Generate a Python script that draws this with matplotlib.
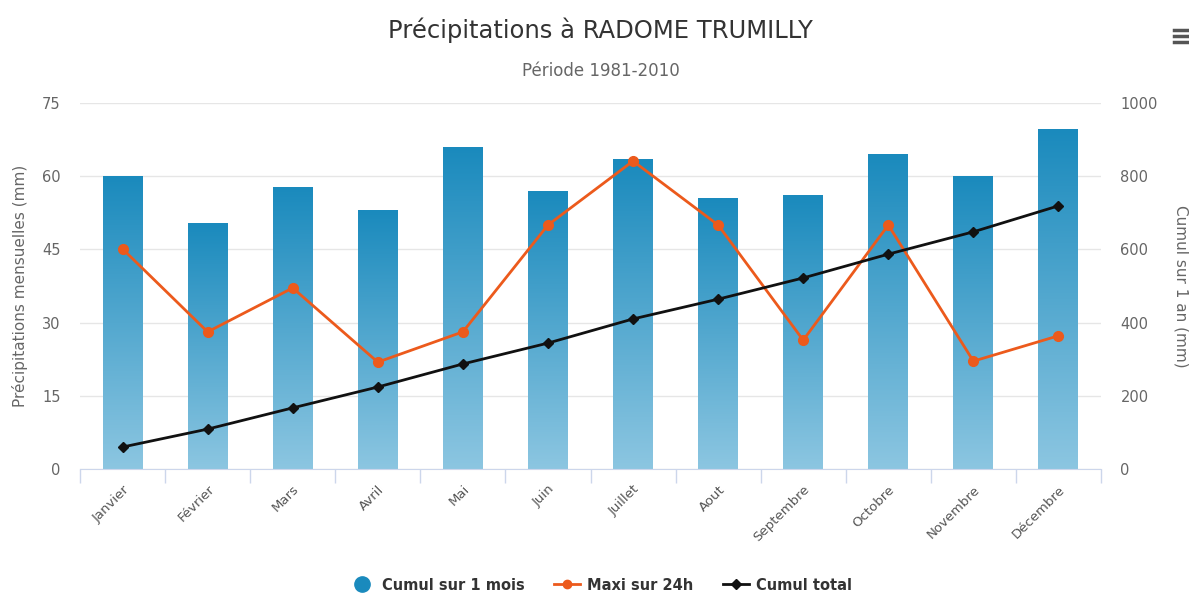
import numpy as np
import matplotlib
matplotlib.use("Agg")
import matplotlib.pyplot as plt
from matplotlib.lines import Line2D
from matplotlib.colors import LinearSegmentedColormap

months = ["Janvier", "Février", "Mars", "Avril", "Mai", "Juin", "Juillet",
          "Aout", "Septembre", "Octobre", "Novembre", "Décembre"]
cumul_mois = [60.0, 50.3, 57.6, 52.9, 65.8, 56.8, 63.5, 55.5, 56.1, 64.4, 60.0, 69.5]
maxi_24h = [45.1, 28.1, 37.1, 21.9, 28.1, 50.0, 63.1, 50.0, 26.4, 50.0, 22.1, 27.3]
cumul_total = [60, 109, 167, 224, 287, 344, 410, 464, 522, 587, 648, 719]
left_ticks = [0, 15, 30, 45, 60, 75]
right_ticks = [0, 200, 400, 600, 800, 1000]

plt.rcParams['font.family'] = ['DejaVu Sans']

fig = plt.figure(figsize=(11.89, 5.95), dpi=100)
ax = fig.add_axes([80/1189, 1-469/595, (1101-80)/1189, (469-103)/595])
ax2 = ax.twinx()

x = np.arange(len(months))
bw = 0.47
cmap = LinearSegmentedColormap.from_list("g", ["#8cc6e1", "#1a8abd"])
grad = np.linspace(0, 1, 256).reshape(-1, 1)
bars = ax.bar(x, cumul_mois, width=bw, color="none", edgecolor="none", zorder=2)
for b in bars:
    x0, w, h = b.get_x(), b.get_width(), b.get_height()
    ax.imshow(grad, cmap=cmap, origin="lower", aspect="auto",
              extent=(x0, x0 + w, 0, h), zorder=2)

ax.set_xlim(-0.5, 11.5)
ax.set_ylim(0, 75)
ax.set_yticks(left_ticks)
ax.plot(x, maxi_24h, color="#ec5a1c", lw=2, marker="o", ms=7, zorder=4)

ax2.set_ylim(0, 1000)
ax2.set_yticks(right_ticks)
ax2.plot(x, cumul_total, color="#111111", lw=2, marker="D", ms=5, zorder=5)
ax2.set_zorder(ax.get_zorder() + 1)
ax2.patch.set_visible(False)

ax.grid(axis="y", color="#e6e6e6", lw=1, zorder=0)
ax.set_axisbelow(True)
for a in (ax, ax2):
    for s in a.spines.values():
        s.set_visible(False)
    a.tick_params(axis="y", length=0, labelsize=10.5, labelcolor="#666666")
ax.tick_params(axis="y", pad=14)
ax2.tick_params(axis="y", pad=14)
ax.spines["bottom"].set_visible(True)
ax.spines["bottom"].set_color("#ccd6eb")

ax.set_xticks(x)
ax.set_xticklabels(months, rotation=45, ha="right", rotation_mode="anchor",
                   fontsize=9.5, color="#555555")
ax.tick_params(axis="x", length=0, pad=10)
ax.set_xticks(np.arange(-0.5, 12, 1), minor=True)
ax.tick_params(axis="x", which="minor", length=10, color="#ccd6eb", width=1)

ax.set_ylabel("Précipitations mensuelles (mm)", fontsize=11, color="#666666", labelpad=10)
ax2.set_ylabel("Cumul sur 1 an (mm)", fontsize=11, color="#666666", rotation=-90, labelpad=22)

fig.text(0.505, 1-30/595, "Précipitations à RADOME TRUMILLY", ha="center", va="center",
         fontsize=17.5, color="#333333")
fig.text(0.505, 1-71/595, "Période 1981-2010", ha="center", va="center",
         fontsize=12, color="#666666")

# hamburger icon
for yy in (30, 36, 42):
    fig.add_artist(Line2D([1174/1189, 1189/1189], [1-yy/595, 1-yy/595],
                          color="#555555", lw=2.5, transform=fig.transFigure))

handles = [
    Line2D([], [], ls="none", marker="o", ms=11, color="#1a8abd"),
    Line2D([], [], color="#ec5a1c", lw=2, marker="o", ms=6),
    Line2D([], [], color="#111111", lw=2, marker="D", ms=5),
]
fig.legend(handles, ["Cumul sur 1 mois", "Maxi sur 24h", "Cumul total"],
           loc="center", bbox_to_anchor=(0.505, 1-585/595), ncol=3, frameon=False,
           prop={"weight": "bold", "size": 10.5}, labelcolor="#333333",
           handlelength=1.8, columnspacing=2.0, handletextpad=0.5)

fig.savefig("out.png", dpi=100)
